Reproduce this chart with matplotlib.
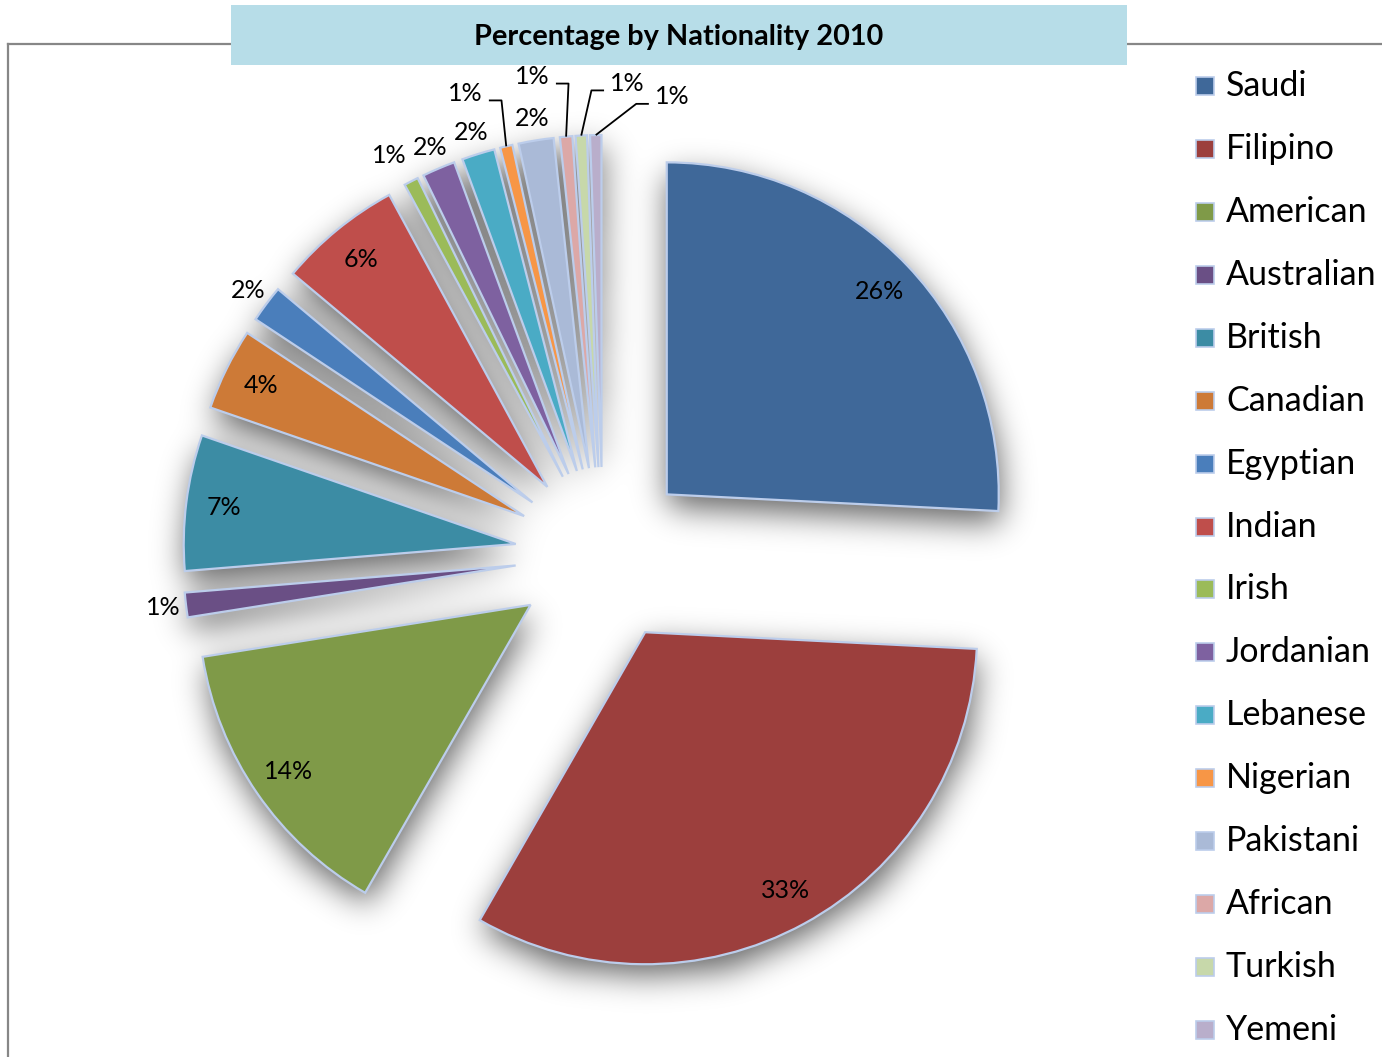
"""
Percentage by Nationality 2010 -- exploded pie with soft shadow and a side legend.
"""

import math

import matplotlib.pyplot as plt
import numpy as np
from matplotlib.lines import Line2D
from matplotlib.patches import Rectangle

nationalities = [
    "Saudi", "Filipino", "American", "Australian", "British", "Canadian",
    "Egyptian", "Indian", "Irish", "Jordanian", "Lebanese", "Nigerian",
    "Pakistani", "African", "Turkish", "Yemeni",
]
share = [
    25.8, 32.5, 14.2, 1.2, 6.6, 4.0,
    1.8, 6.0, 0.7, 1.6, 1.6, 0.6,
    1.7, 0.6, 0.55, 0.55,
]
colors = [
    "#3F6899", "#9C3F3D", "#7F9A48", "#6A4F85", "#3C8CA4", "#CD7A37",
    "#4A7EBB", "#BF4E4B", "#9BBB59", "#7E61A0", "#4AABC5", "#F79646",
    "#AABAD7", "#DCA8A7", "#C7D8AA", "#B9AECB",
]

# labels moved off their default spot: (angle deg, distance in radii)
moved_labels = {"Irish": (118.3, 1.10)}
# labels pulled away with a leader line
leader_labels = {
    "Nigerian": (107.3, 1.186),
    "African": (99.1, 1.192),
    "Turkish": (85.7, 1.159),
    "Yemeni": (79.2, 1.135),
}

W, H = 1382, 1057
R_PX = 332              # pie radius in pixels
CX, CY = 603, 555       # pie centre in pixels (from top-left)
EXPLODE = 0.265
EDGE = "#BCCDEB"
FONT = "Lato"


def fx(x_px):
    return x_px / W


def fy(y_px):
    return 1 - y_px / H


def gauss_blur(img, sigma):
    r = int(3 * sigma)
    k = np.exp(-0.5 * (np.arange(-r, r + 1) / sigma) ** 2)
    k /= k.sum()
    img = np.apply_along_axis(lambda m: np.convolve(m, k, mode="same"), 0, img)
    img = np.apply_along_axis(lambda m: np.convolve(m, k, mode="same"), 1, img)
    return img


fig = plt.figure(figsize=(W / 100, H / 100), dpi=100)
ax = fig.add_axes([0, 0, 1, 1])

wedges, _ = ax.pie(
    share,
    explode=[EXPLODE] * len(share),
    colors=colors,
    startangle=90,
    counterclock=False,
    wedgeprops=dict(edgecolor=EDGE, linewidth=1.6, zorder=3),
)

x0, x1 = -CX / R_PX, (W - CX) / R_PX
y0, y1 = (CY - H) / R_PX, CY / R_PX
ax.set_xlim(x0, x1)
ax.set_ylim(y0, y1)
ax.set_aspect("equal")
ax.axis("off")

# soft drop shadow under the wedges
step = 2  # pixels per grid cell
nx, ny = W // step, H // step
gx = np.linspace(x0, x1, nx)
gy = np.linspace(y0, y1, ny)
GX, GY = np.meshgrid(gx, gy)
pts = np.column_stack([GX.ravel(), GY.ravel()])
mask = np.zeros(len(pts), dtype=bool)
for w in wedges:
    path = w.get_path().transformed(w.get_patch_transform())
    mask |= path.contains_points(pts)
mask = mask.reshape(ny, nx).astype(float)
# shift right and down (rows go upward in y)
sx, sy = 3 // step, 12 // step
mask = np.roll(mask, sx, axis=1)
mask = np.roll(mask, -sy, axis=0)
blur = gauss_blur(mask, 16 / step)
shadow = np.zeros((ny, nx, 4))
shadow[..., 3] = np.clip(blur * 0.62, 0, 1)
ax.imshow(shadow, extent=[x0, x1, y0, y1], origin="lower", zorder=1,
          interpolation="bilinear", aspect="auto")
ax.set_xlim(x0, x1)
ax.set_ylim(y0, y1)

# percentage labels
total = sum(share)
for name, v, w in zip(nationalities, share, wedges):
    pct = math.floor(v / total * 100 + 0.5)
    bis = math.radians((w.theta1 + w.theta2) / 2)
    cx, cy = w.center
    if name in leader_labels or name in moved_labels:
        ang, dist = leader_labels.get(name) or moved_labels[name]
        ang = math.radians(ang)
    elif pct >= 4:
        ang, dist = bis, 0.885
    else:
        ang, dist = bis, 1.068
    tx, ty = cx + dist * math.cos(ang), cy + dist * math.sin(ang)
    ax.text(tx, ty, f"{pct}%", ha="center", va="center", fontsize=18,
            family=FONT, color="black", zorder=5)
    if name in leader_labels:
        px, py = cx + 1.0 * math.cos(bis), cy + 1.0 * math.sin(bis)
        side = 1 if px > tx else -1
        ly = ty - 0.021
        ax.plot([tx + side * 0.07, tx + side * 0.108, px], [ly, ly, py],
                color="black", lw=1.3, zorder=4, solid_capstyle="butt")

# chart frame and title box
frame_kw = dict(color="#878787", lw=1.6, transform=fig.transFigure)
fig.add_artist(Line2D([fx(8), fx(231)], [fy(44), fy(44)], **frame_kw))
fig.add_artist(Line2D([fx(1127), 1], [fy(44), fy(44)], **frame_kw))
fig.add_artist(Line2D([fx(8), fx(8)], [fy(44), 0], **frame_kw))
fig.add_artist(Rectangle((fx(231), fy(65)), fx(1127) - fx(231), fy(5) - fy(65),
                         facecolor="#B7DDE8", edgecolor="none",
                         transform=fig.transFigure, zorder=6))
fig.text(fx(679), fy(37), "Percentage by Nationality 2010", ha="center",
         va="center", fontsize=20.8, fontweight="bold", family=FONT, zorder=7)

# legend
for i, (name, c) in enumerate(zip(nationalities, colors)):
    yc = 86 + i * 62.93
    fig.add_artist(Rectangle((fx(1196), fy(yc + 9)), fx(18), 18 / H,
                             facecolor=c, edgecolor=EDGE, lw=1.2,
                             transform=fig.transFigure, zorder=6))
    fig.text(fx(1226), fy(yc), name, ha="left", va="center", fontsize=24.5,
             family=FONT, zorder=7)

fig.savefig("out.png", dpi=100, facecolor="white")
